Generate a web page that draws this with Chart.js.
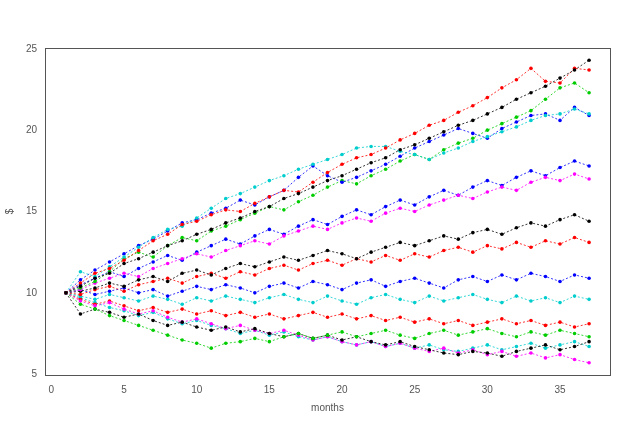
<!DOCTYPE html>
<html>
<head>
<script src="https://cdn.jsdelivr.net/npm/chart.js@4"></script>
<style>
  body { margin: 0; background: #fff; }
  #wrap { width: 640px; height: 434px; }
</style>
</head>
<body>
<div id="wrap"><canvas id="c"></canvas></div>
<script>
const months = [1,2,3,4,5,6,7,8,9,10,11,12,13,14,15,16,17,18,19,20,21,22,23,24,25,26,27,28,29,30,31,32,33,34,35,36,37];
const xTicks = [0, 5, 10, 15, 20, 25, 30, 35];
const yTicks = [5, 10, 15, 20, 25];

const s1 = [10,10.4,10.9,11.2,11.8,12.1,12.5,12.9,13.2,13.6,13.9,14.3,14.6,15.0,15.3,15.8,16.1,16.5,16.9,17.2,17.6,18.0,18.3,18.8,19.1,19.5,19.9,20.3,20.6,21.0,21.4,21.9,22.3,22.7,23.2,23.7,24.3];
const s2 = [10,10.6,11.2,11.5,12.0,12.6,13.2,13.6,14.2,14.4,14.8,15.1,15.0,15.5,15.9,16.3,16.2,16.8,17.4,17.9,18.3,18.5,18.9,19.4,19.8,20.3,20.6,21.1,21.5,22.0,22.6,23.1,23.8,23.0,22.9,23.8,23.7];
const s3 = [10,11.3,11.0,11.6,12.2,12.8,13.4,13.9,14.1,14.6,15.2,15.8,16.1,16.5,16.9,17.2,17.6,17.9,18.2,18.5,18.9,19.0,19.0,18.7,18.5,18.2,18.6,18.9,19.3,19.6,19.9,20.2,20.6,20.9,21.0,21.3,21.0];
const s4 = [10,10.8,11.4,11.9,12.4,12.9,13.3,13.8,14.3,14.5,14.9,15.2,15.7,15.4,15.9,16.3,17.1,17.8,17.2,16.8,17.1,17.5,17.9,18.4,18.9,19.3,19.7,20.1,19.8,19.5,20.1,20.5,20.9,21.0,20.6,21.4,20.9];
const s5 = [10,10.3,10.7,11.3,12.1,12.5,12.2,12.9,13.4,13.2,13.8,14.1,14.5,14.9,15.3,15.1,15.6,16.0,16.5,16.9,16.7,17.2,17.6,18.1,18.5,18.2,18.8,19.2,19.5,20.0,20.4,20.8,21.2,21.9,22.6,22.9,22.3];
const s6 = [10,10.2,10.6,10.9,11.2,11.0,11.5,11.8,12.1,12.4,12.2,12.6,12.9,13.2,13.0,13.5,13.8,14.1,13.9,14.3,14.6,14.4,14.9,15.2,15.0,15.4,15.7,16.0,15.8,16.2,16.5,16.3,16.8,17.1,16.9,17.3,17.0];
const s7 = [10,10.1,10.3,10.6,10.4,10.8,11.0,10.7,11.2,11.4,11.1,11.5,11.8,11.6,11.9,12.2,12.0,12.3,12.6,12.4,12.1,12.5,12.8,13.1,12.9,13.2,13.5,13.3,13.7,13.9,13.6,14.0,14.3,14.1,14.5,14.8,14.4];
const s8 = [10,9.9,10.2,10.4,10.1,10.5,10.7,10.9,10.6,11.0,11.2,10.9,11.3,11.1,11.5,11.7,11.4,11.8,12.0,11.7,12.1,11.9,12.3,12.0,12.4,12.2,12.6,12.8,12.5,12.9,12.7,13.1,12.8,13.2,13.0,13.4,13.1];
const s9 = [10,10.2,9.9,10.1,10.3,10.0,10.2,9.8,10.1,10.4,10.2,10.5,10.3,10.0,10.4,10.6,10.3,10.7,10.5,10.2,10.6,10.8,10.4,10.7,10.9,10.6,10.3,10.8,11.0,10.7,11.1,10.8,11.2,11.0,10.7,11.1,10.9];
const s10 = [10,9.8,9.6,9.9,9.7,9.5,9.8,9.6,9.3,9.7,9.5,9.8,9.6,9.4,9.7,9.9,9.6,9.4,9.8,9.5,9.3,9.7,9.9,9.6,9.4,9.8,9.5,9.7,9.9,9.6,9.4,9.8,9.5,9.7,9.4,9.8,9.6];
const s11 = [10,9.3,9.0,8.6,8.3,8.0,7.7,7.4,7.1,6.9,6.6,6.9,7.0,7.2,7.0,7.3,7.5,7.2,7.4,7.6,7.3,7.5,7.7,7.4,7.2,7.5,7.7,7.4,7.6,7.8,7.5,7.3,7.6,7.4,7.7,7.5,7.3];
const s12 = [10,8.7,9.0,8.8,8.5,8.7,8.3,8.0,8.2,7.9,7.7,7.9,7.6,7.8,7.5,7.3,7.5,7.2,7.4,7.1,7.3,7.0,6.8,7.0,6.7,6.5,6.3,6.2,6.4,6.3,6.1,6.4,6.6,6.8,6.5,6.7,7.0];
const s13 = [10,9.5,9.2,9.4,9.0,8.7,8.9,8.5,8.2,8.4,8.1,7.8,8.0,7.7,7.5,7.7,7.4,7.1,7.3,7.0,6.8,7.0,6.7,6.9,6.6,6.4,6.6,6.3,6.5,6.2,6.4,6.1,6.3,6.0,6.2,5.9,5.7];
const s14 = [10,9.6,9.3,9.5,9.2,8.9,9.1,8.8,9.0,8.7,8.9,8.6,8.8,8.5,8.7,8.4,8.6,8.8,8.5,8.7,8.4,8.6,8.3,8.5,8.2,8.4,8.1,8.3,8.0,8.2,8.4,8.1,8.3,8.0,8.2,7.9,8.1];
const s15 = [10,9.7,9.4,9.1,8.9,8.6,8.8,8.4,8.1,8.3,8.0,7.8,7.5,7.7,7.4,7.6,7.3,7.1,7.3,7.0,6.8,7.0,6.7,6.9,6.6,6.8,6.5,6.4,6.6,6.8,6.5,6.7,6.9,6.6,6.8,7.0,6.7];
const s16 = [10,10.5,10.9,11.3,11.0,11.5,11.9,12.3,12.0,12.5,12.9,13.3,13.0,13.5,13.9,13.6,14.1,14.5,14.2,14.7,15.1,14.8,15.3,15.7,15.4,15.9,16.3,16.0,16.5,16.9,16.6,17.1,17.5,17.2,17.7,18.1,17.8];

const series = [s1, s2, s3, s4, s5, s6, s7, s8, s9, s10, s11, s12, s13, s14, s15, s16];
const colors = ['#000000', '#ff0000', '#00cdcd', '#0000ff', '#00cd00', '#ff00ff'];
const seriesColors = [0, 1, 2, 3, 4, 5, 0, 1, 3, 2, 4, 0, 5, 1, 2, 3];

const datasets = series.map((s, i) => {
    const col = colors[seriesColors[i]];
    return {
        data: s.map((v, j) => ({ x: months[j], y: v })),
        borderColor: col,
        backgroundColor: col,
        borderWidth: 0.8,
        borderDash: [2, 2],
        pointRadius: 1.8,
        pointBorderWidth: 0,
        tension: 0
    };
});

// R style box around the plot region
const boxPlugin = {
    id: 'box',
    afterDraw(chart) {
        const a = chart.chartArea, ctx = chart.ctx;
        ctx.save();
        ctx.strokeStyle = '#555';
        ctx.lineWidth = 1;
        ctx.strokeRect(a.left + 0.5, a.top + 0.5, a.right - a.left, a.bottom - a.top);
        ctx.restore();
    }
};

const tickStyle = { color: '#555', font: { family: 'Liberation Sans', size: 10 } };

new Chart(document.getElementById('c'), {
    type: 'line',
    data: { datasets },
    options: {
        responsive: true,
        maintainAspectRatio: false,
        animation: false,
        layout: { padding: { top: 48, right: 30, bottom: 16, left: 0 } },
        plugins: { legend: { display: false }, tooltip: { enabled: false } },
        scales: {
            x: {
                type: 'linear',
                min: -0.44, max: 38.44,
                afterBuildTicks: ax => { ax.ticks = xTicks.map(v => ({ value: v })); },
                grid: { display: false, drawTicks: true, tickLength: 5, tickColor: '#555' },
                border: { display: false },
                ticks: { ...tickStyle, maxRotation: 0, padding: 4 },
                title: { display: true, text: 'months', color: '#555', font: { family: 'Liberation Sans', size: 10 }, padding: { top: 8 } },
                afterFit: ax => { ax.height = 43; }
            },
            y: {
                min: 4.95, max: 25.05,
                afterBuildTicks: ax => { ax.ticks = yTicks.map(v => ({ value: v })); },
                grid: { display: false, drawTicks: true, tickLength: 5, tickColor: '#555' },
                border: { display: false },
                ticks: tickStyle,
                title: { display: true, text: '$', color: '#555', font: { family: 'Liberation Sans', size: 10 } },
                afterFit: ax => { ax.width = 45; }
            }
        }
    },
    plugins: [boxPlugin]
});
</script>
</body>
</html>
